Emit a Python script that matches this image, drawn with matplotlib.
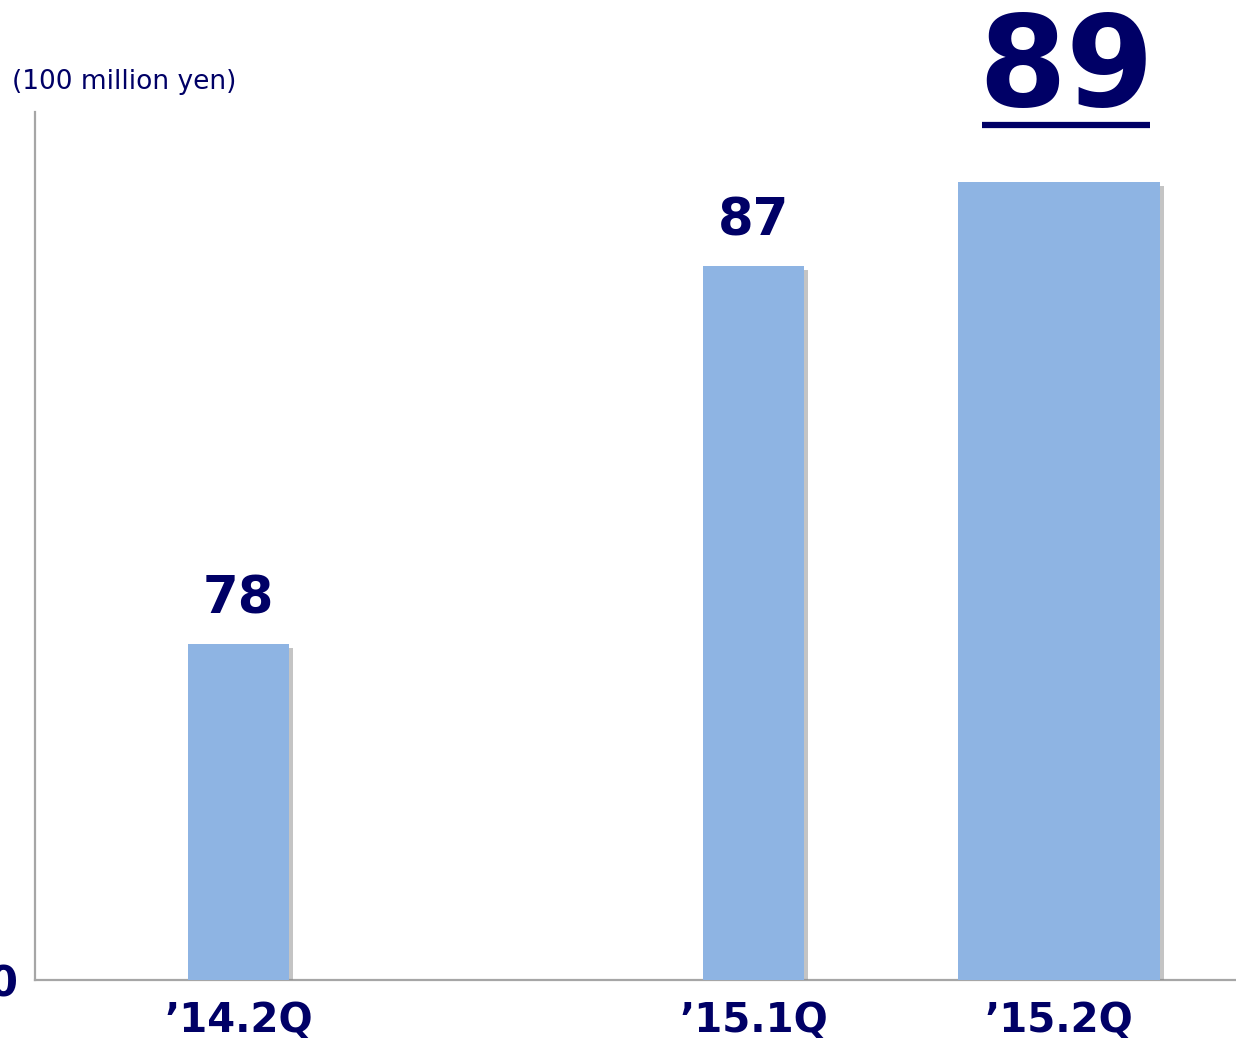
import matplotlib
matplotlib.use("Agg")
import matplotlib.pyplot as plt
import matplotlib.patheffects as pe
from matplotlib.lines import Line2D

# data
quarters = ["\u201914.2Q", "\u201915.1Q", "\u201915.2Q"]
sales = [78, 87, 89]
unit_label = "(100 million yen)"

# layout
xpos = [0, 2.04, 3.25]
widths = [0.4, 0.4, 0.8]
navy = "#000066"
bar_color = "#8EB4E3"
axis_gray = "#A6A6A6"
base = 70  # axis is cut, bottom shown as "0"

fig = plt.figure(figsize=(12.36, 10.43), dpi=100)
ax = fig.add_axes([35 / 1236, 63 / 1043, 1201 / 1236, 868 / 1043])

shadow = [pe.SimplePatchShadow(offset=(3, -3), shadow_rgbFace="#8a8a8a", alpha=0.5), pe.Normal()]
bars = ax.bar(xpos, [v - base for v in sales], width=widths, bottom=base,
              color=bar_color, zorder=3)
for b in bars:
    b.set_path_effects(shadow)

ax.set_xlim(-0.806, 3.95)
ax.set_ylim(base, base + 868 / 42)

for spine in ["top", "right"]:
    ax.spines[spine].set_visible(False)
ax.spines["left"].set_color(axis_gray)
ax.spines["left"].set_linewidth(1.6)
ax.spines["bottom"].set_color(axis_gray)
ax.spines["bottom"].set_linewidth(1.6)

ax.set_xticks(xpos)
ax.set_xticklabels(quarters, fontsize=29, fontweight="bold", color=navy)
ax.tick_params(axis="x", length=0, pad=15)
ax.set_yticks([base])
ax.set_yticklabels(["0"], fontsize=30, fontweight="bold", color=navy)
ax.tick_params(axis="y", length=0, pad=12)

# value labels
for x, v in zip(xpos[:2], sales[:2]):
    ax.annotate(str(v), (x, v), xytext=(0, 14), textcoords="offset points",
                ha="center", va="bottom", fontsize=37, fontweight="bold", color=navy)

big = ax.annotate(str(sales[2]), (xpos[2], sales[2]), xytext=(5, 36), textcoords="offset points",
                  ha="center", va="bottom", fontsize=91, fontweight="bold", color=navy,
                  annotation_clip=False)

fig.text(12 / 1236, 1 - 82 / 1043, unit_label, fontsize=19, color=navy, va="center", ha="left")

# underline under the big number
fig.canvas.draw()
bb = big.get_window_extent()
y_line = 1043 - 125
fig.add_artist(Line2D([(bb.x0 + 4) / 1236, (bb.x1 - 4) / 1236], [y_line / 1043, y_line / 1043],
                      color=navy, linewidth=4.5, solid_capstyle="butt"))

fig.savefig("out.png", dpi=100)
